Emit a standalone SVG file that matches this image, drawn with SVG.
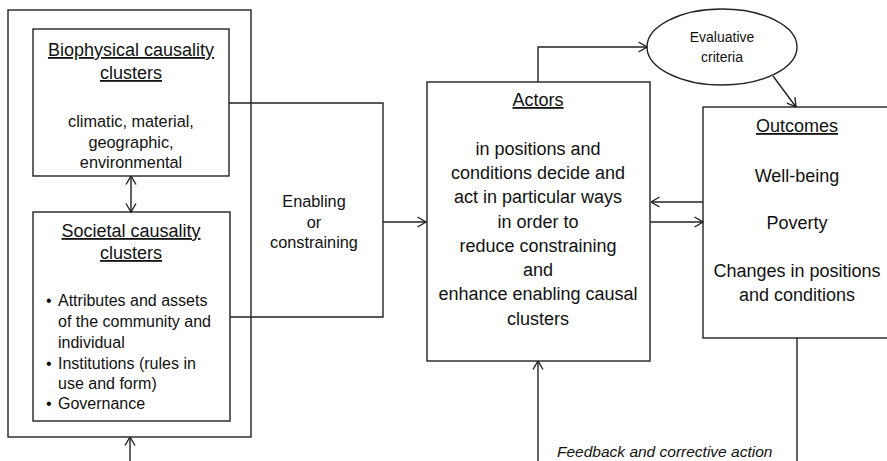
<svg xmlns="http://www.w3.org/2000/svg" width="887" height="461" viewBox="0 0 887 461">
<style>
.box{fill:#fff;stroke:#222;stroke-width:1.4}
.ln{fill:none;stroke:#222;stroke-width:1.4}
text{font-family:"Liberation Sans",Arial,sans-serif;fill:#111}
.t{font-size:18px;text-anchor:middle;text-decoration:underline}
.b18{font-size:18px;text-anchor:middle}
.b16{font-size:16.3px;text-anchor:middle}
.bl{font-size:16px}
.sm{font-size:14px;text-anchor:middle}
.it{font-size:15.5px;font-style:italic}
</style>
<defs>
<marker id="ah" viewBox="0 0 10 12" refX="9.5" refY="6" markerWidth="10" markerHeight="12" markerUnits="userSpaceOnUse" orient="auto-start-reverse">
<path d="M1,1 L9.5,6 L1,11" fill="none" stroke="#222" stroke-width="1.4"/>
</marker>
</defs>
<g id="outer"><rect class="box" x="8" y="10" width="243" height="427"/></g>
<g id="biophysical">
<rect class="box" x="33" y="29" width="196" height="147"/>
<text class="t" x="131" y="56">Biophysical causality</text>
<text class="t" x="131" y="79">clusters</text>
<text class="b16" x="131" y="127">climatic, material,</text>
<text class="b16" x="131" y="147.5">geographic,</text>
<text class="b16" x="131" y="168">environmental</text>
</g>
<g id="societal">
<rect class="box" x="33" y="212" width="197" height="209"/>
<text class="t" x="131" y="237">Societal causality</text>
<text class="t" x="131" y="259">clusters</text>
<g class="bl">
<text x="46" y="306">•</text><text x="58" y="306">Attributes and assets</text>
<text x="58" y="327">of the community and</text>
<text x="58" y="348">individual</text>
<text x="46" y="369">•</text><text x="58" y="369">Institutions (rules in</text>
<text x="58" y="389">use and form)</text>
<text x="46" y="409">•</text><text x="58" y="409">Governance</text>
</g>
</g>
<g id="enabling">
<text class="b16" x="314" y="207">Enabling</text>
<text class="b16" x="314" y="228">or</text>
<text class="b16" x="314" y="248">constraining</text>
</g>
<g id="actors">
<rect class="box" x="427" y="82" width="223" height="279"/>
<text class="t" x="538" y="106">Actors</text>
<text class="b18" x="538" y="155">in positions and</text>
<text class="b18" x="538" y="179">conditions decide and</text>
<text class="b18" x="538" y="203">act in particular ways</text>
<text class="b18" x="538" y="228">in order to</text>
<text class="b18" x="538" y="252">reduce constraining</text>
<text class="b18" x="538" y="276">and</text>
<text class="b18" x="538" y="300">enhance enabling causal</text>
<text class="b18" x="538" y="325">clusters</text>
</g>
<g id="evaluative">
<ellipse class="box" cx="722" cy="47" rx="75" ry="38"/>
<text class="sm" x="722" y="42">Evaluative</text>
<text class="sm" x="722" y="62">criteria</text>
</g>
<g id="outcomes">
<rect class="box" x="703" y="107" width="200" height="231"/>
<text class="t" x="797" y="132">Outcomes</text>
<text class="b18" x="797" y="182">Well-being</text>
<text class="b18" x="797" y="229">Poverty</text>
<text class="b18" x="797" y="277">Changes in positions</text>
<text class="b18" x="797" y="301">and conditions</text>
</g>
<g id="connectors">
<path class="ln" d="M131,176 V212" marker-start="url(#ah)" marker-end="url(#ah)"/>
<path class="ln" d="M130,461 V437" marker-end="url(#ah)"/>
<path class="ln" d="M229,103 H383 V317 H230"/>
<path class="ln" d="M383,222 H426" marker-end="url(#ah)"/>
<path class="ln" d="M538,82 V47 H647" marker-end="url(#ah)"/>
<path class="ln" d="M773,76 L796,107" marker-end="url(#ah)"/>
<path class="ln" d="M703,202 H651" marker-end="url(#ah)"/>
<path class="ln" d="M650,222 H703" marker-end="url(#ah)"/>
<path class="ln" d="M797,338 V461"/>
<path class="ln" d="M538,461 V361" marker-end="url(#ah)"/>
<text class="it" x="557" y="457">Feedback and corrective action</text>
</g>
</svg>
